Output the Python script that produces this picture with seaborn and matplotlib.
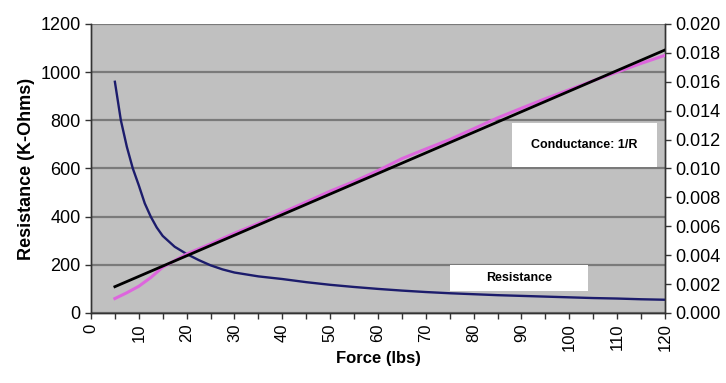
import numpy as np
import pandas as pd
import matplotlib
matplotlib.use('Agg')
import matplotlib.pyplot as plt
import seaborn as sns
from matplotlib.patches import Rectangle

# values
force_r = [5, 6.25, 7.5, 8.75, 10, 11.25, 12.5, 13.75, 15, 17.5, 20, 22.5, 25, 27.5,
           30, 35, 40, 45, 50, 55, 60, 65, 70, 75, 80, 85, 90, 95, 100, 105, 110,
           115, 120]
resistance = [960, 800, 690, 600, 530, 455, 400, 355, 320, 275, 245, 220, 198, 181,
              168, 152, 141, 128, 117, 108, 100, 93, 87, 82, 78, 74, 71, 68, 65, 62,
              60, 57, 55]

force_c = [5, 7.5, 10, 12.5, 15, 20, 25, 30, 35, 40, 45, 50, 55, 60, 65, 70, 75, 80,
           85, 90, 95, 100, 105, 110, 115, 120]
conductance = [0.00100, 0.00140, 0.00185, 0.00245, 0.00317, 0.00408, 0.00478,
               0.00552, 0.00620, 0.00695, 0.00768, 0.00843, 0.00910, 0.00985,
               0.01068, 0.01135, 0.01200, 0.01275, 0.01350, 0.01417, 0.01483,
               0.01545, 0.01608, 0.01667, 0.01727, 0.01783]

trend_x = [5, 120]
trend_y = [0.00182, 0.01820]

x_ticks = list(range(0, 121, 10))
left_ticks = list(range(0, 1201, 200))
right_ticks = [0.000, 0.002, 0.004, 0.006, 0.008, 0.010, 0.012, 0.014, 0.016, 0.018, 0.020]

plt.rcParams['font.family'] = ['Liberation Sans', 'DejaVu Sans']

df_r = pd.DataFrame({'force': force_r, 'resistance': resistance})
df_c = pd.DataFrame({'force': force_c, 'conductance': conductance})
df_t = pd.DataFrame({'force': trend_x, 'trend': trend_y})

fig = plt.figure(figsize=(7.26, 3.83), dpi=100)
ax = fig.add_axes([0.1253, 0.1828, 0.7906, 0.7546])
ax.set_facecolor('#c0c0c0')
ax2 = ax.twinx()

# gridlines on the left scale
for v in left_ticks:
    ax.axhline(v, color='#7a7a7a', lw=1.6, zorder=1)

sns.lineplot(data=df_c, x='force', y='conductance', ax=ax2, color='#dd66dd', lw=2.2,
             zorder=3)
sns.lineplot(data=df_t, x='force', y='trend', ax=ax2, color='black', lw=2.0, zorder=4)
sns.lineplot(data=df_r, x='force', y='resistance', ax=ax, color='#1c1c6c', lw=1.7,
             zorder=3)

ax.set_xlim(0, 120)
ax.set_ylim(0, 1200)
ax2.set_ylim(0, 0.020)
ax.set_xticks(x_ticks)
ax.set_xticks(list(range(5, 121, 10)), minor=True)
ax.set_xticklabels([str(t) for t in x_ticks], rotation=90, fontsize=12)
ax.set_yticks(left_ticks)
ax.set_yticklabels([str(t) for t in left_ticks], fontsize=13)
ax2.set_yticks(right_ticks)
ax2.set_yticklabels(['%.3f' % t for t in right_ticks], fontsize=13)

ax.tick_params(axis='both', which='both', direction='out', length=4, width=1, color='#333333')
ax2.tick_params(axis='y', direction='out', length=4, width=1, color='#333333')

ax.set_xlabel('Force (lbs)', fontsize=12, fontweight='bold', labelpad=0)
ax.set_ylabel('Resistance (K-Ohms)', fontsize=13, fontweight='bold', labelpad=4)
ax2.set_ylabel('')

for a in (ax, ax2):
    for s in a.spines.values():
        s.set_color('#333333')
        s.set_linewidth(1)
ax.spines['top'].set_visible(False)
ax2.spines['top'].set_visible(False)

# label boxes
ax2.add_patch(Rectangle((88.0, 0.0101), 30.3, 0.00305, facecolor='white',
                        edgecolor='none', zorder=5))
ax2.text(103.2, 0.01162, 'Conductance: 1/R', ha='center', va='center', fontsize=9,
         fontweight='bold', zorder=6)
ax2.add_patch(Rectangle((75.0, 0.00152), 28.9, 0.0018, facecolor='white',
                        edgecolor='none', zorder=5))
ax2.text(89.5, 0.00242, 'Resistance', ha='center', va='center', fontsize=9,
         fontweight='bold', zorder=6)

fig.savefig('out.png', dpi=100)
